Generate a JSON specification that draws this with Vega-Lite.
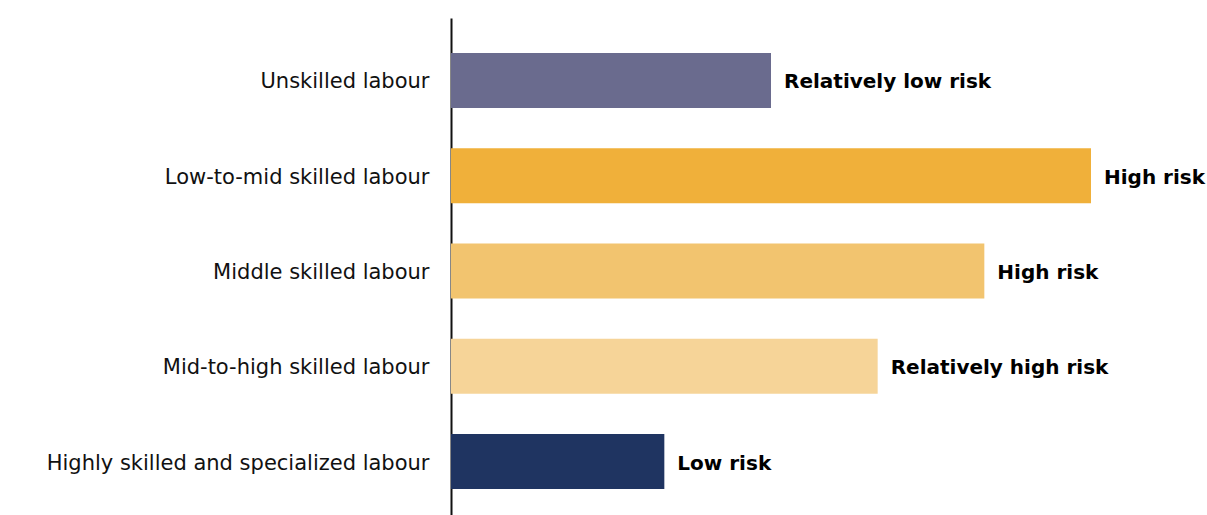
{
  "$schema": "https://vega.github.io/schema/vega-lite/v6.json",
  "autosize": "none",
  "padding": {"left": 451, "top": 18, "right": 0, "bottom": 0},
  "width": 756,
  "height": 497,
  "background": "white",
  "config": {"view": {"stroke": null}, "font": "DejaVu Sans"},
  "data": {
    "values": [
      {"skill": "Unskilled labour", "value": 1.5, "risk": "Relatively low risk"},
      {"skill": "Low-to-mid skilled labour", "value": 3, "risk": "High risk"},
      {"skill": "Middle skilled labour", "value": 2.5, "risk": "High risk"},
      {"skill": "Mid-to-high skilled labour", "value": 2, "risk": "Relatively high risk"},
      {"skill": "Highly skilled and specialized labour", "value": 1, "risk": "Low risk"}
    ]
  },
  "encoding": {
    "y": {
      "field": "skill",
      "type": "nominal",
      "sort": null,
      "title": null,
      "scale": {"paddingInner": 0.4226, "paddingOuter": 0.32, "align": 0.574},
      "axis": {
        "domainColor": "#111111",
        "domainWidth": 2,
        "ticks": false,
        "labelFontSize": 21,
        "labelColor": "#111111",
        "labelPadding": 22,
        "labelOffset": 2,
        "labelLimit": 460,
        "labelFont": "DejaVu Sans"
      }
    },
    "x": {
      "field": "value",
      "type": "quantitative",
      "scale": {"domain": [0, 3.54375], "nice": false, "zero": true},
      "axis": null
    }
  },
  "layer": [
    {
      "mark": {"type": "bar"},
      "encoding": {
        "color": {
          "field": "skill",
          "type": "nominal",
          "legend": null,
          "scale": {
            "domain": ["Unskilled labour", "Low-to-mid skilled labour", "Middle skilled labour", "Mid-to-high skilled labour", "Highly skilled and specialized labour"],
            "range": ["#6a6b8e", "#f0b03a", "#f2c46f", "#f6d498", "#1f3461"]
          }
        }
      }
    },
    {
      "mark": {"type": "text", "align": "left", "baseline": "middle", "dx": 13, "dy": 2, "fontSize": 20, "fontWeight": "bold", "color": "#000000", "font": "DejaVu Sans"},
      "encoding": {"text": {"field": "risk"}}
    }
  ]
}
